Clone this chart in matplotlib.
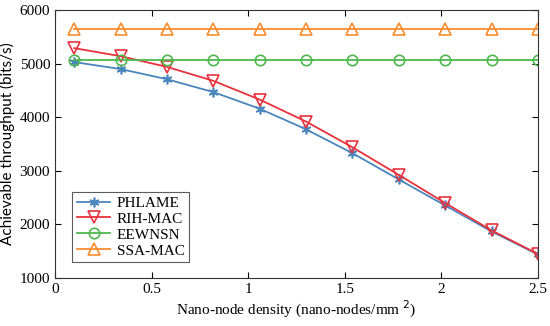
import matplotlib
matplotlib.use("Agg")
import matplotlib.pyplot as plt

density = [0.1, 0.34, 0.58, 0.82, 1.06, 1.3, 1.54, 1.78, 2.02, 2.26, 2.5]
phlame = [5030, 4900, 4710, 4470, 4160, 3775, 3330, 2840, 2355, 1870, 1440]
rih_mac = [5290, 5140, 4940, 4680, 4330, 3920, 3440, 2925, 2400, 1890, 1450]
eewnsn = [5070] * 11
ssa_mac = [5640] * 11

x_ticks = [0, 0.5, 1, 1.5, 2, 2.5]
x_ticklabels = ["0", "0.5", "1", "1.5", "2", "2.5"]
y_ticks = [1000, 2000, 3000, 4000, 5000, 6000]

plt.rcParams['font.family'] = ['Liberation Serif', 'DejaVu Serif']

fig = plt.figure(figsize=(5.5, 3.26), dpi=100)
ax = fig.add_axes([0.1, 0.147, 0.878, 0.822])

ax.plot(density, phlame, color='#4a86be', marker=(6, 2, 0), markersize=7, lw=1.3,
        markeredgewidth=1.2, label='PHLAME')
ax.plot(density, rih_mac, color='#e8323c', marker='v', markersize=8, lw=1.3,
        markerfacecolor='none', markeredgewidth=1.2, label='RIH-MAC')
ax.plot(density, eewnsn, color='#4db84d', marker='o', markersize=7.5, lw=1.3,
        markerfacecolor='none', markeredgewidth=1.2, label='EEWNSN')
ax.plot(density, ssa_mac, color='#fb8c2e', marker='^', markersize=8, lw=1.3,
        markerfacecolor='none', markeredgewidth=1.2, label='SSA-MAC')

ax.set_xlim(0, 2.5)
ax.set_ylim(1000, 6000)
ax.set_xticks(x_ticks)
ax.set_xticklabels(x_ticklabels)
ax.set_yticks(y_ticks)
ax.tick_params(direction='in', labelsize=11, length=4, top=True, right=True, width=0.8)
for s in ax.spines.values():
    s.set_linewidth(0.8)
    s.set_color('#333333')

ax.set_xlabel('Nano-node density (nano-nodes/mm $^{2}$)', fontsize=11, labelpad=2)
ax.set_ylabel('Achievable throughput (bits/s)', fontsize=11, family=['Lato', 'DejaVu Sans'],
              labelpad=3)

leg = ax.legend(loc='lower left', bbox_to_anchor=(0.02, 0.03), fontsize=11, frameon=True,
                fancybox=False, edgecolor='#333333', handlelength=2.2, borderpad=0.3,
                labelspacing=0.15, handletextpad=0.4)
leg.get_frame().set_linewidth(0.8)

fig.savefig('out.png', dpi=100)
